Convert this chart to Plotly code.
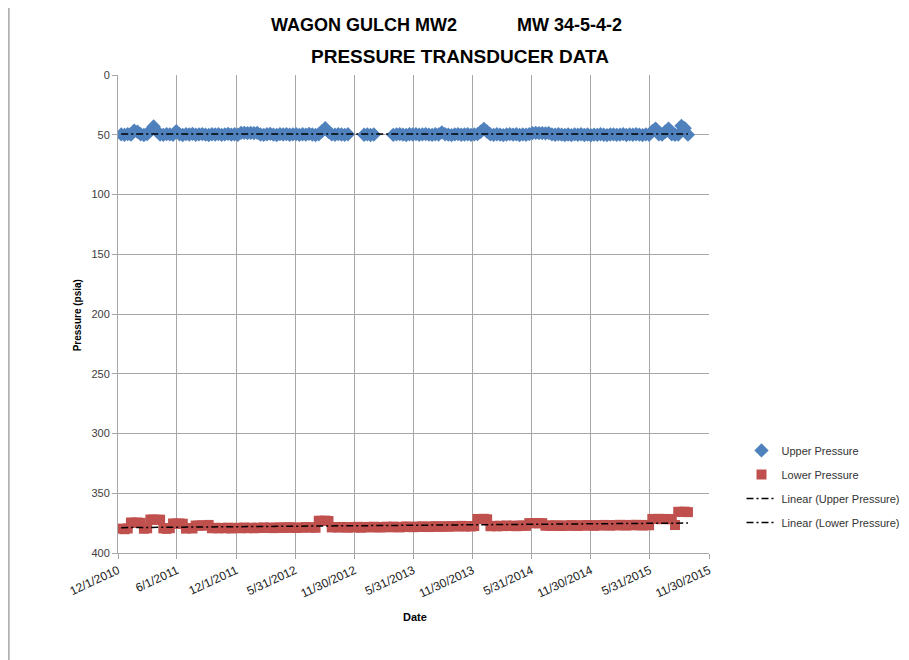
import numpy as np
import pandas as pd
import plotly.graph_objects as go

# readings every 10 days, Dec 2010 - Oct 2015
dates = pd.date_range('2010-12-11', periods=176, freq='10D')

upper = [49.7, 50.1, 49.4, 49.9, 46.5, 47.5, 49.6, 50.2, 49.5, 46.5,
         43.0, 47.0, 49.8, 50.1, 49.4, 49.7, 50.0, 47.0, 49.6, 50.2,
         49.5, 49.8, 49.3, 50.0, 49.7, 49.4, 49.9, 50.2, 49.6, 49.8,
         49.5, 50.1, 49.7, 49.3, 49.9, 49.6, 50.0, 48.5, 48.4, 48.6,
         48.5, 48.7, 48.5, 49.8, 50.1, 49.6, 49.3, 49.9, 50.2, 49.5,
         49.8, 49.4, 50.0, 49.7, 49.5, 50.1, 49.6, 49.9, 49.3, 49.8,
         50.2, 49.6, 47.0, 44.5, 47.5, 49.7, 50.0, 49.5, 49.8, 50.1,
         49.6, None, None, None, None, 50.0, 49.7, 50.2, 49.8, None,
         None, None, None, None, 50.1, 49.7, 49.4, 49.9, 50.2, 49.6,
         49.8, 49.5, 50.0, 49.7, 49.4, 49.9, 50.1, 49.6, 49.8, 48.0,
         49.6, 49.9, 50.3, 49.7, 49.5, 50.0, 49.8, 49.6, 50.1, 49.7,
         49.5, 47.5, 45.0, 47.5, 49.7, 50.1, 49.6, 49.9, 50.3, 49.8,
         49.5, 49.9, 49.6, 50.2, 49.7, 50.0, 49.4, 48.6, 48.5, 48.7,
         48.6, 48.8, 48.6, 49.7, 50.0, 49.6, 49.9, 50.2, 49.8, 50.3,
         49.7, 50.0, 49.6, 50.2, 49.8, 50.4, 49.9, 50.1, 49.6, 50.0,
         50.3, 49.8, 49.7, 50.1, 49.9, 49.5, 50.2, 49.7, 50.0, 49.6,
         49.9, 50.3, 49.7, 50.0, 47.0, 44.8, 49.6, 49.9, 47.5, 44.8,
         49.7, 50.0, 49.8, 42.5, 44.5, 49.9]

lower = [379.6, 380.1, 379.5, 374.5, 374.6, 374.5, 374.8, 379.7, 379.3, 372.0,
         372.0, 372.2, 372.1, 379.4, 379.8, 379.2, 375.3, 375.4, 375.3, 375.5,
         379.6, 379.1, 379.5, 377.0, 377.1, 376.9, 377.0, 376.5, 379.3, 378.9,
         379.4, 379.0, 379.3, 378.8, 379.5, 379.1, 378.9, 379.3, 378.7, 379.2,
         378.9, 379.3, 378.8, 379.1, 378.6, 379.0, 378.7, 379.2, 378.9, 378.5,
         379.0, 378.7, 378.4, 378.9, 379.1, 378.6, 378.8, 378.3, 378.7, 378.5,
         378.9, 373.0, 373.1, 372.9, 373.2, 378.6, 378.3, 378.7, 378.2, 378.5,
         378.8, 378.3, 378.6, 378.1, 378.9, 378.4, 378.2, 378.6, 378.0, 378.4,
         378.7, 378.2, 378.0, 378.5, 377.9, 378.3, 378.6, 378.1, 377.8, 378.2,
         378.4, 377.9, 378.2, 377.7, 378.0, 378.3, 377.8, 377.6, 378.1, 377.9,
         377.7, 378.0, 377.5, 377.8, 377.6, 377.3, 377.9, 377.5, 377.8, 377.4,
         371.5, 371.6, 371.4, 371.8, 377.6, 377.3, 377.7, 377.2, 377.5, 377.0,
         377.4, 377.1, 377.6, 377.2, 376.9, 377.3, 375.0, 375.1, 374.9, 375.2,
         375.0, 377.2, 376.9, 377.3, 376.8, 377.1, 377.4, 376.9, 377.2, 376.7,
         377.0, 377.3, 376.8, 377.1, 376.6, 376.9, 377.2, 376.7, 377.0, 376.5,
         376.8, 377.1, 376.6, 376.9, 376.4, 376.8, 377.0, 376.5, 376.8, 376.4,
         376.7, 377.0, 376.5, 376.8, 371.5, 371.6, 371.4, 371.7, 371.5, 371.6,
         371.8, 376.6, 365.5, 365.6, 365.4, 365.8]

tick_dates = ['2010-12-01', '2011-06-01', '2011-12-01', '2012-05-31', '2012-11-30', '2013-05-31',
              '2013-11-30', '2014-05-31', '2014-11-30', '2015-05-31', '2015-11-30']
tick_labels = ['12/1/2010', '6/1/2011', '12/1/2011', '5/31/2012', '11/30/2012', '5/31/2013',
               '11/30/2013', '5/31/2014', '11/30/2014', '5/31/2015', '11/30/2015']

FONT = 'Liberation Sans, Arial, sans-serif'
DASH = '7px,3px,2px,3px'


def linear_trend(x, y):
    s = pd.Series(y, index=x, dtype=float).dropna()
    days = (s.index - s.index[0]).days.values
    m, b = np.polyfit(days, s.values, 1)
    ends = [s.index[0], s.index[-1]]
    return ends, [b, m * days[-1] + b]


fig = go.Figure()
fig.add_trace(go.Scatter(x=dates, y=upper, mode='markers', name='Upper Pressure', legendgroup='a',
                         marker=dict(symbol='diamond', size=11, color='#4f81bd')))
fig.add_trace(go.Scatter(x=dates, y=lower, mode='markers', name='Lower Pressure', legendgroup='b',
                         marker=dict(symbol='square', size=10, color='#c0504d')))
tx, ty = linear_trend(dates, upper)
fig.add_trace(go.Scatter(x=tx, y=ty, mode='lines', name='Linear (Upper Pressure)', legendgroup='c',
                         line=dict(color='black', width=1.5, dash=DASH)))
tx, ty = linear_trend(dates, lower)
fig.add_trace(go.Scatter(x=tx, y=ty, mode='lines', name='Linear (Lower Pressure)', legendgroup='d',
                         line=dict(color='black', width=1.5, dash=DASH)))

# page body adds an 8px offset, margins compensate for it
fig.update_layout(
    width=909, height=660,
    margin=dict(l=110, r=203, t=67, b=115),
    paper_bgcolor='white', plot_bgcolor='white',
    font=dict(family=FONT, size=11, color='#404040'),
    showlegend=True,
    legend=dict(x=1.055, y=0.245, xanchor='left', yanchor='top', tracegroupgap=5,
                font=dict(size=11, color='#333333'), bgcolor='rgba(0,0,0,0)'),
)
fig.update_xaxes(range=['2010-12-01', '2015-11-30'], tickvals=tick_dates, ticktext=tick_labels,
                 tickangle=-25, tickfont=dict(size=12, color='#222222'),
                 showgrid=True, gridcolor='#a6a6a6', gridwidth=1,
                 showline=True, linecolor='#a6a6a6', ticks='outside', tickcolor='#a6a6a6', ticklen=5,
                 zeroline=False)
fig.update_yaxes(range=[400, 0], dtick=50, tickfont=dict(size=11, color='#404040'),
                 showgrid=True, gridcolor='#a6a6a6', gridwidth=1,
                 showline=True, linecolor='#a6a6a6', ticks='outside', tickcolor='#a6a6a6', ticklen=5,
                 zeroline=False)

# titles
fig.add_annotation(text='WAGON GULCH MW2' + '\u00a0' * 12 + 'MW 34-5-4-2', x=0.556, y=1.105,
                   xref='paper', yref='paper', showarrow=False, xanchor='center', yanchor='middle',
                   font=dict(family=FONT, size=18, color='black', weight='bold'))
fig.add_annotation(text='PRESSURE TRANSDUCER DATA', x=0.578, y=1.038,
                   xref='paper', yref='paper', showarrow=False, xanchor='center', yanchor='middle',
                   font=dict(family=FONT, size=19, color='black', weight='bold'))
fig.add_annotation(text='Pressure (psia)', x=-0.067, y=0.498, textangle=-90,
                   xref='paper', yref='paper', showarrow=False, xanchor='center', yanchor='middle',
                   font=dict(family=FONT, size=10, color='black', weight='bold'))
fig.add_annotation(text='Date', x=0.503, y=-0.134,
                   xref='paper', yref='paper', showarrow=False, xanchor='center', yanchor='middle',
                   font=dict(family=FONT, size=11, color='black', weight='bold'))

# outer chart frame
fig.add_shape(type='rect', xref='paper', yref='paper', x0=-0.1846, x1=1.34, y0=-0.25, y1=1.1527,
              line=dict(color='#a6a6a6', width=1.5), layer='below')

fig.write_html("out.html")
